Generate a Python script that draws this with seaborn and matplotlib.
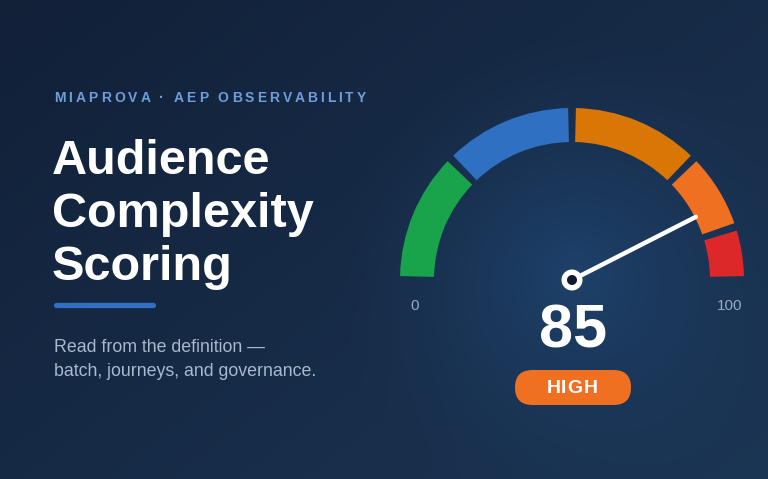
import numpy as np
import matplotlib
matplotlib.use("Agg")
import matplotlib.pyplot as plt
from matplotlib.patches import Wedge, Circle, FancyBboxPatch
import seaborn as sns

# 数据
band_edges = [0, 25, 50, 75, 90, 100]
band_colors = ["#19A34A", "#2F70C2", "#D97706", "#F07022", "#DC2828"]
score = 85
score_label = "HIGH"
scale_min, scale_max = 0, 100
eyebrow = "MIAPROVA · AEP OBSERVABILITY"
title_lines = ["Audience", "Complexity", "Scoring"]
subtitle_lines = ["Read from the definition —", "batch, journeys, and governance."]

sns.set_theme(style="dark")
plt.rcParams['font.family'] = ['Liberation Sans', 'DejaVu Sans']
palette = sns.color_palette(band_colors)

W, H = 768, 479
fig = plt.figure(figsize=(W / 100, H / 100), dpi=100)
ax = fig.add_axes([0, 0, 1, 1])
ax.set_xlim(0, W)
ax.set_ylim(H, 0)
ax.axis('off')

# 背景渐变
yy, xx = np.mgrid[0:H, 0:W]
t = xx / W * 0.55 + yy / H * 0.45
c0 = np.array([0x12, 0x20, 0x38]) / 255
c1 = np.array([0x1B, 0x35, 0x54]) / 255
bg = c0 + (c1 - c0) * t[..., None]
d = np.hypot(xx - 575, yy - 275) / 240
glow = np.clip(1 - d, 0, 1) ** 1.4
cg = np.array([0x1F, 0x44, 0x70]) / 255
bg = bg + (cg - bg) * glow[..., None] * 0.85
ax.imshow(bg, extent=(0, W, H, 0), zorder=0, aspect='auto')

# 仪表盘
cx, cy = 572, 280
R, band_w, gap = 172, 34, 1.3


def to_angle(v):
    return 180 - 180 * (v - scale_min) / (scale_max - scale_min)


for i, col in enumerate(palette):
    a_hi = to_angle(band_edges[i]) - gap
    a_lo = to_angle(band_edges[i + 1]) + gap
    ax.add_patch(Wedge((cx, cy), R, -a_hi, -a_lo, width=band_w, facecolor=col,
                       edgecolor='none', zorder=2))

phi = np.radians(to_angle(score))
L = 139
ax.plot([cx, cx + L * np.cos(phi)], [cy, cy - L * np.sin(phi)], color='white',
        lw=3.2, solid_capstyle='round', zorder=3)
ax.add_patch(Circle((cx, cy), 10.5, facecolor='white', edgecolor='none', zorder=4))
ax.add_patch(Circle((cx, cy), 5, facecolor='#0F1B2E', edgecolor='none', zorder=5))

ax.text(415, 310, str(scale_min), color='#9AABC2', fontsize=11, ha='center', va='baseline', zorder=5)
ax.text(730, 310, str(scale_max), color='#9AABC2', fontsize=11, ha='center', va='baseline', zorder=5)
ax.text(cx + 1, 348, str(score), color='white', fontsize=44, fontweight='bold',
        ha='center', va='baseline', zorder=5)

ax.add_patch(FancyBboxPatch((515, 370), 116, 35, boxstyle="round,pad=0,rounding_size=17.5",
                            facecolor='#F07022', edgecolor='none', zorder=4))

renderer = fig.canvas.get_renderer()


def ink_width(s, **kw):
    a = ax.text(0, 0, s, **kw)
    w = a.get_window_extent(renderer).width
    a.remove()
    return w


def text_width(s, **kw):
    # 用竖线包住，保证空格也算宽度
    return ink_width('|' + s + '|', **kw) - ink_width('||', **kw)


def spaced_text(x, y, s, tracking, center=False, **kw):
    total = text_width(s, **kw) + tracking * (len(s) - 1)
    if center:
        x = x - total / 2
    for i, ch in enumerate(s):
        if ch != ' ':
            off = (text_width(ch, **kw) - ink_width(ch, **kw)) / 2
            ax.text(x + text_width(s[:i], **kw) + i * tracking + off, y, ch,
                    ha='left', va='baseline', **kw)


spaced_text(cx, 393, score_label, 1.0, center=True, color='white', fontsize=14,
            fontweight='bold', zorder=6)

# 左侧文字
spaced_text(54, 102, eyebrow, 3.1, color='#6E9FDC', fontsize=10, fontweight='bold', zorder=5)
for i, line in enumerate(title_lines):
    ax.text(52, 174 + i * 53, line, color='white', fontsize=35, fontweight='bold',
            ha='left', va='baseline', zorder=5)
ax.plot([56, 153], [305, 305], color='#3070C4', lw=3.8, solid_capstyle='round', zorder=5)
for i, line in enumerate(subtitle_lines):
    ax.text(54, 352 + i * 24, line, color='#A9B9CE', fontsize=12.8,
            ha='left', va='baseline', zorder=5)

fig.savefig('out.png', dpi=100)
